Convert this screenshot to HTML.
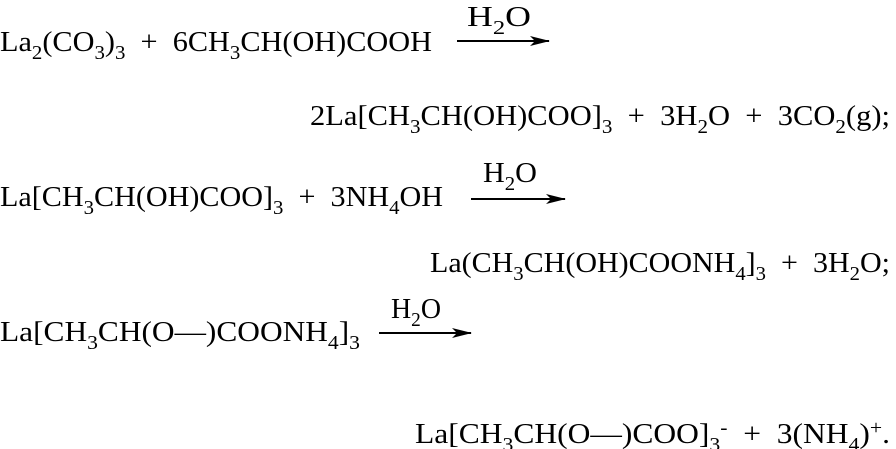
<!DOCTYPE html>
<html><head><meta charset="utf-8"><style>
html,body{margin:0;padding:0;background:#fff;}
svg{display:block;}
text{font-family:"Liberation Serif",serif;font-size:29px;fill:#000;}
.s{font-size:20px;}
</style></head><body>
<svg width="896" height="449" viewBox="0 0 896 449">
<defs>
<marker id="b" markerWidth="20" markerHeight="10" refX="19" refY="5" orient="auto" markerUnits="userSpaceOnUse"><path d="M0,0 L20,5 L0,10 L5,5z" fill="#000"/></marker></defs>

<text x="0" y="51" textLength="432" lengthAdjust="spacingAndGlyphs" xml:space="preserve">La<tspan class="s" dy="8">2</tspan><tspan dy="-8">(CO</tspan><tspan class="s" dy="8">3</tspan><tspan dy="-8">)</tspan><tspan class="s" dy="8">3</tspan><tspan dy="-8">  +  6CH</tspan><tspan class="s" dy="8">3</tspan><tspan dy="-8">CH(OH)COOH</tspan></text>
<line x1="457" y1="41" x2="549" y2="41" stroke="#000" stroke-width="2" marker-end="url(#b)"/>
<text x="467" y="26" textLength="64" lengthAdjust="spacingAndGlyphs">H<tspan class="s" dy="8">2</tspan><tspan dy="-8">O</tspan></text>

<text x="310" y="125" textLength="580" lengthAdjust="spacingAndGlyphs" xml:space="preserve">2La[CH<tspan class="s" dy="8">3</tspan><tspan dy="-8">CH(OH)COO]</tspan><tspan class="s" dy="8">3</tspan><tspan dy="-8">  +  3H</tspan><tspan class="s" dy="8">2</tspan><tspan dy="-8">O  +  3CO</tspan><tspan class="s" dy="8">2</tspan><tspan dy="-8">(g);</tspan></text>

<text x="0" y="206" textLength="443" lengthAdjust="spacingAndGlyphs" xml:space="preserve">La[CH<tspan class="s" dy="8">3</tspan><tspan dy="-8">CH(OH)COO]</tspan><tspan class="s" dy="8">3</tspan><tspan dy="-8">  +  3NH</tspan><tspan class="s" dy="8">4</tspan><tspan dy="-8">OH</tspan></text>
<line x1="471" y1="199" x2="565" y2="199" stroke="#000" stroke-width="2" marker-end="url(#b)"/>
<text x="483" y="182" textLength="54" lengthAdjust="spacingAndGlyphs">H<tspan class="s" dy="8">2</tspan><tspan dy="-8">O</tspan></text>

<text x="430" y="272" textLength="460" lengthAdjust="spacingAndGlyphs" xml:space="preserve">La(CH<tspan class="s" dy="8">3</tspan><tspan dy="-8">CH(OH)COONH</tspan><tspan class="s" dy="8">4</tspan><tspan dy="-8">]</tspan><tspan class="s" dy="8">3</tspan><tspan dy="-8">  +  3H</tspan><tspan class="s" dy="8">2</tspan><tspan dy="-8">O;</tspan></text>

<text x="0" y="341" textLength="360" lengthAdjust="spacingAndGlyphs" xml:space="preserve">La[CH<tspan class="s" dy="8">3</tspan><tspan dy="-8">CH(O—)COONH</tspan><tspan class="s" dy="8">4</tspan><tspan dy="-8">]</tspan><tspan class="s" dy="8">3</tspan></text>
<line x1="379" y1="333" x2="471" y2="333" stroke="#000" stroke-width="2" marker-end="url(#b)"/>
<text x="391" y="318" textLength="50" lengthAdjust="spacingAndGlyphs">H<tspan class="s" dy="8">2</tspan><tspan dy="-8">O</tspan></text>

<text x="415" y="443" textLength="475" lengthAdjust="spacingAndGlyphs" xml:space="preserve">La[CH<tspan class="s" dy="8">3</tspan><tspan dy="-8">CH(O—)COO]</tspan><tspan class="s" dy="8">3</tspan><tspan class="s" dy="-17">-</tspan><tspan dy="9">  +  3(NH</tspan><tspan class="s" dy="8">4</tspan><tspan dy="-8">)</tspan><tspan class="s" dy="-9">+</tspan><tspan dy="9">.</tspan></text>
</svg>
</body></html>
